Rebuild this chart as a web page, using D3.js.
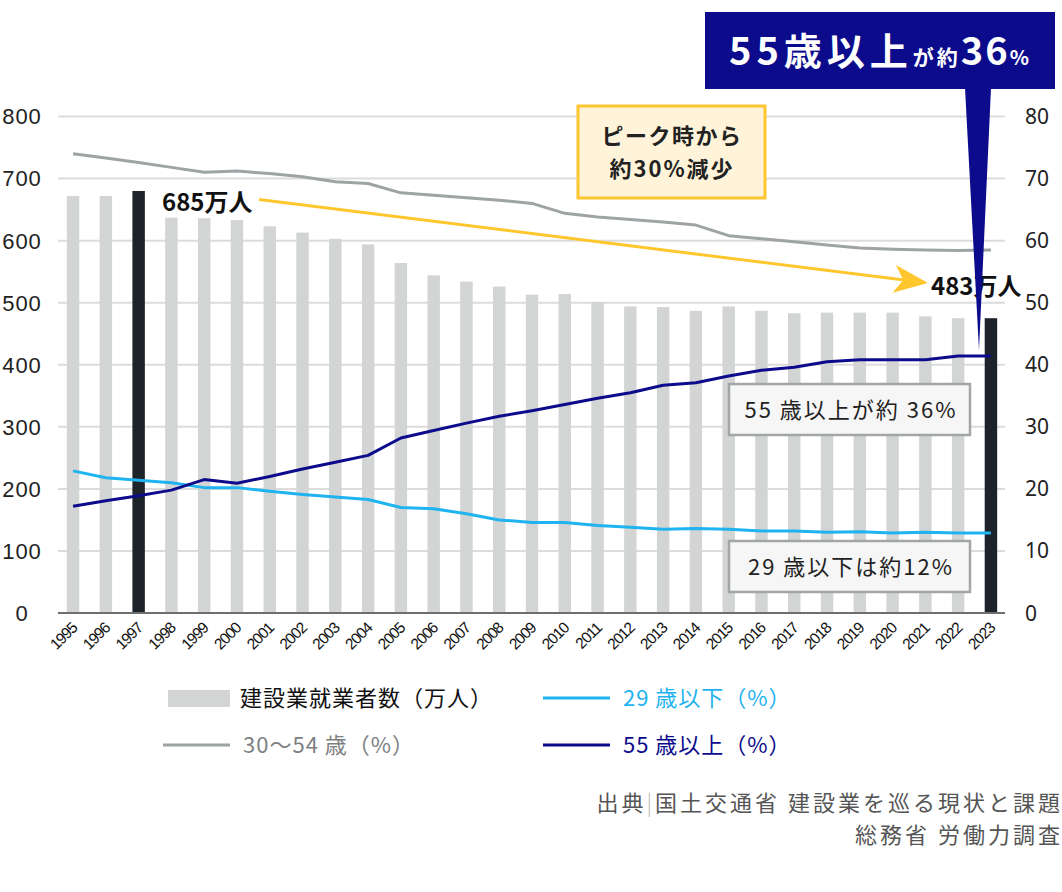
<!DOCTYPE html>
<html>
<head>
<meta charset="utf-8" />
<title>建設業就業者数</title>
<style>
  html, body { margin: 0; padding: 0; background: #fff; }
  #chart { width: 1062px; height: 892px; }
  text { font-family: "Noto Sans CJK JP", "Noto Sans", sans-serif; }
</style>
</head>
<body>
<div id="chart"></div>
<script src="https://cdnjs.cloudflare.com/ajax/libs/d3/7.8.5/d3.min.js"></script>
<script>

// years on the x axis
var years = [1995, 1996, 1997, 1998, 1999, 2000, 2001, 2002, 2003, 2004,
             2005, 2006, 2007, 2008, 2009, 2010, 2011, 2012, 2013, 2014,
             2015, 2016, 2017, 2018, 2019, 2020, 2021, 2022, 2023];

// 建設業就業者数 (万人)
var workers = [672, 672, 680, 637, 636, 633, 623, 613, 603, 594,
               564, 544, 534, 526, 513, 514, 501, 494, 493, 487,
               494, 487, 483, 484, 484, 484, 478, 475, 475];

// 30〜54歳 (%)
var age30to54 = [74.0, 73.3, 72.6, 71.8, 71.0, 71.2, 70.8, 70.3, 69.5, 69.2,
                 67.7, 67.3, 66.9, 66.5, 66.0, 64.4, 63.8, 63.4, 63.0, 62.5,
                 60.8, 60.3, 59.8, 59.3, 58.8, 58.6, 58.5, 58.4, 58.5];

// 29歳以下 (%)
var under29 = [22.9, 21.8, 21.4, 21.0, 20.2, 20.2, 19.6, 19.1, 18.7, 18.3,
               17.0, 16.8, 16.0, 15.0, 14.6, 14.6, 14.1, 13.8, 13.5, 13.6,
               13.5, 13.2, 13.2, 13.0, 13.1, 12.9, 13.0, 12.9, 12.9];

// 55歳以上 (%)
var over55 = [17.2, 18.1, 18.9, 19.8, 21.5, 20.9, 22.0, 23.2, 24.3, 25.4,
              28.2, 29.4, 30.6, 31.7, 32.6, 33.6, 34.6, 35.5, 36.7, 37.1,
              38.2, 39.1, 39.6, 40.5, 40.8, 40.8, 40.8, 41.4, 41.4];

var leftTicks = [0, 100, 200, 300, 400, 500, 600, 700, 800];
var rightTicks = [0, 10, 20, 30, 40, 50, 60, 70, 80];
var highlightYears = [1997, 2023];

var width = 1062, height = 892;

var svg = d3.select("#chart").append("svg")
    .attr("width", width)
    .attr("height", height);

var x = d3.scaleBand()
    .domain(years)
    .range([57, 1007])
    .paddingInner(0.62)
    .paddingOuter(0.3);

var yL = d3.scaleLinear().domain([0, 800]).range([613, 116.5]);
var yR = d3.scaleLinear().domain([0, 80]).range([613, 116.5]);

function cx(year) { return x(year) + x.bandwidth() / 2; }

// grid
svg.append("g")
    .selectAll("line")
    .data(leftTicks.slice(1))
    .enter().append("line")
    .attr("x1", 58).attr("x2", 1005)
    .attr("y1", function(d) { return yL(d); })
    .attr("y2", function(d) { return yL(d); })
    .attr("stroke", "#dcdcdc")
    .attr("stroke-width", 2);

// left axis labels
svg.append("g")
    .selectAll("text")
    .data(leftTicks)
    .enter().append("text")
    .attr("x", 22)
    .attr("y", function(d) { return yL(d); })
    .attr("dy", "0.36em")
    .attr("text-anchor", "middle")
    .style("font-family", "'Liberation Sans', Arial, sans-serif")
    .style("font-size", "22px")
    .style("letter-spacing", "1px")
    .attr("fill", "#222")
    .text(function(d) { return d; });

// right axis labels
svg.append("g")
    .selectAll("text")
    .data(rightTicks)
    .enter().append("text")
    .attr("x", 1025)
    .attr("y", function(d) { return yR(d); })
    .attr("dy", "0.36em")
    .style("font-family", "'Noto Sans', sans-serif")
    .style("font-size", "21px")
    .attr("fill", "#222")
    .text(function(d) { return d; });

// bars
svg.append("g")
    .selectAll("rect")
    .data(years)
    .enter().append("rect")
    .attr("x", function(d) { return x(d); })
    .attr("width", x.bandwidth())
    .attr("y", function(d, i) { return yL(workers[i]); })
    .attr("height", function(d, i) { return yL(0) - yL(workers[i]); })
    .attr("fill", function(d) { return highlightYears.indexOf(d) >= 0 ? "#1c232b" : "#d3d5d4"; });

// baseline
svg.append("line")
    .attr("x1", 58).attr("x2", 1005)
    .attr("y1", yL(0)).attr("y2", yL(0))
    .attr("stroke", "#6e6e6e")
    .attr("stroke-width", 2);

// x axis labels
svg.append("g")
    .selectAll("text")
    .data(years)
    .enter().append("text")
    .attr("transform", function(d) { return "translate(" + (cx(d) + 5) + ",629) rotate(-45)"; })
    .attr("text-anchor", "end")
    .style("font-family", "'Liberation Sans', Arial, sans-serif")
    .style("font-size", "15.5px")
    .style("letter-spacing", "-1px")
    .attr("fill", "#111")
    .text(function(d) { return d; });

// lines
var series = [
  { values: age30to54, color: "#9ea3a6" },
  { values: under29, color: "#1fb3ef" },
  { values: over55, color: "#0c0b8c" }
];

var line = d3.line()
    .x(function(d, i) { return cx(years[i]); })
    .y(function(d) { return yR(d); });

svg.append("g")
    .selectAll("path")
    .data(series)
    .enter().append("path")
    .attr("d", function(d) { return line(d.values); })
    .attr("fill", "none")
    .attr("stroke", function(d) { return d.color; })
    .attr("stroke-width", 3)
    .attr("stroke-linejoin", "round");

// yellow arrow from peak to 2023
var yellow = "#ffc62e";
var p0 = [259, 199.5], p1 = [928, 283];
var ang = Math.atan2(p1[1] - p0[1], p1[0] - p0[0]) * 180 / Math.PI;
var len = Math.hypot(p1[0] - p0[0], p1[1] - p0[1]);
var arrow = svg.append("g")
    .attr("transform", "translate(" + p0[0] + "," + p0[1] + ") rotate(" + ang + ")");
arrow.append("line")
    .attr("x1", 0).attr("y1", 0)
    .attr("x2", len - 24).attr("y2", 0)
    .attr("stroke", yellow)
    .attr("stroke-width", 3);
arrow.append("path")
    .attr("d", "M" + len + ",0 L" + (len - 34) + ",-14 L" + (len - 25) + ",0 L" + (len - 34) + ",14 Z")
    .attr("fill", yellow);

svg.append("text")
    .attr("x", 162).attr("y", 211)
    .style("font-size", "24px")
    .style("font-weight", 700)
    .attr("fill", "#111")
    .text("685万人");

svg.append("text")
    .attr("x", 931).attr("y", 295)
    .style("font-size", "24px")
    .style("font-weight", 700)
    .attr("fill", "#111")
    .text("483万人");

// yellow note box
svg.append("rect")
    .attr("x", 578).attr("y", 106)
    .attr("width", 187).attr("height", 92)
    .attr("fill", "#fff4d9")
    .attr("stroke", yellow)
    .attr("stroke-width", 3);
svg.append("text")
    .attr("x", 672).attr("y", 144)
    .attr("text-anchor", "middle")
    .style("font-size", "22px")
    .style("font-weight", 700)
    .style("letter-spacing", "1.5px")
    .attr("fill", "#222")
    .text("ピーク時から");
svg.append("text")
    .attr("x", 672).attr("y", 177)
    .attr("text-anchor", "middle")
    .style("font-size", "22px")
    .style("font-weight", 700)
    .style("letter-spacing", "2px")
    .attr("fill", "#222")
    .text("約30%減少");

// gray note boxes
var notes = [
  { text: "55 歳以上が約 36%", y: 384 },
  { text: "29 歳以下は約12%", y: 541 }
];
var note = svg.append("g").selectAll("g")
    .data(notes)
    .enter().append("g");
note.append("rect")
    .attr("x", 729).attr("y", function(d) { return d.y; })
    .attr("width", 241).attr("height", 51)
    .attr("fill", "#f6f6f6")
    .attr("stroke", "#a2a6a9")
    .attr("stroke-width", 2.5);
note.append("text")
    .attr("x", 851).attr("y", function(d) { return d.y + 34; })
    .attr("text-anchor", "middle")
    .style("font-size", "22px")
    .style("letter-spacing", "2px")
    .attr("fill", "#222")
    .text(function(d) { return d.text; });

// navy callout
var navy = "#0b0b8c";
svg.append("path")
    .attr("d", "M965,88 L991,88 L979,350 Z")
    .attr("fill", navy);
svg.append("rect")
    .attr("x", 705).attr("y", 12)
    .attr("width", 350).attr("height", 77)
    .attr("fill", navy);
var head = svg.append("text")
    .attr("x", 879).attr("y", 65)
    .attr("text-anchor", "middle")
    .attr("fill", "#fff")
    .style("font-weight", 700);
head.append("tspan").style("font-size", "38px").style("letter-spacing", "5px").text("55歳以上");
head.append("tspan").style("font-size", "21px").style("letter-spacing", "3px").text("が約");
head.append("tspan").style("font-size", "38px").style("letter-spacing", "2px").text("36");
head.append("tspan").style("font-size", "20px").text("%");

// legend
var legend = svg.append("g");
legend.append("rect")
    .attr("x", 168).attr("y", 690)
    .attr("width", 62).attr("height", 17)
    .attr("fill", "#d3d5d4");
var legendItems = [
  { text: "建設業就業者数（万人）", x: 240, y: 698, color: "#111", line: null },
  { text: "29 歳以下（%）", x: 623, y: 698, color: "#1fb3ef", line: "#1fb3ef" },
  { text: "30〜54 歳（%）", x: 243, y: 745, color: "#7d7f81", line: "#9ea3a6" },
  { text: "55 歳以上（%）", x: 623, y: 745, color: "#0c0b8c", line: "#0c0b8c" }
];
legendItems.forEach(function(d) {
  if (d.line) {
    legend.append("line")
      .attr("x1", d.x - 80).attr("x2", d.x - 13)
      .attr("y1", d.y).attr("y2", d.y)
      .attr("stroke", d.line)
      .attr("stroke-width", 3);
  }
  legend.append("text")
    .attr("x", d.x).attr("y", d.y)
    .attr("dy", "0.36em")
    .style("font-size", "22px")
    .style("letter-spacing", "1px")
    .attr("fill", d.color)
    .text(d.text);
});

// source
var src = svg.append("text")
    .attr("x", 1063).attr("y", 811)
    .attr("text-anchor", "end")
    .style("font-size", "22px")
    .style("letter-spacing", "3px")
    .attr("fill", "#555");
src.append("tspan").text("出典");
src.append("tspan").attr("fill", "#bbb").style("font-weight", 300).text("|");
src.append("tspan").text("国土交通省 建設業を巡る現状と課題");
svg.append("text")
    .attr("x", 1063).attr("y", 843)
    .attr("text-anchor", "end")
    .style("font-size", "22px")
    .style("letter-spacing", "3px")
    .attr("fill", "#555")
    .text("総務省 労働力調査");

</script>
</body>
</html>
